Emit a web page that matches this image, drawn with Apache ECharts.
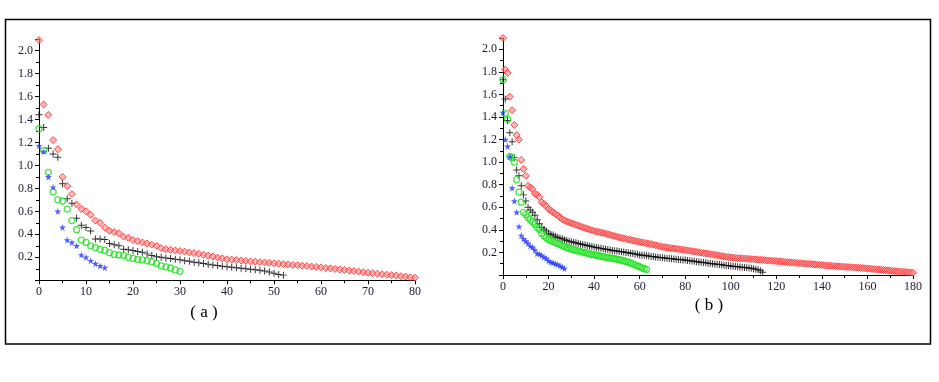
<!DOCTYPE html>
<html>
<head>
<meta charset="utf-8">
<script src="https://cdn.jsdelivr.net/npm/echarts@6/dist/echarts.min.js"></script>
<style>
  html, body { margin: 0; padding: 0; background: #fff; }
  #main { width: 939px; height: 382px; }
</style>
</head>
<body>
<div id="main"></div>
<script>
// panel (a): y values at x = 0, 1, 2, ...
var redA = [2.09, 1.53, 1.44, 1.22, 1.14, 0.90, 0.82, 0.75, 0.66, 0.62, 0.60, 0.57, 0.52, 0.50, 0.46, 0.43, 0.42, 0.41, 0.38, 0.37,
  0.35, 0.34, 0.33, 0.32, 0.31, 0.30, 0.28, 0.27, 0.265, 0.26, 0.255, 0.25, 0.243, 0.237, 0.23, 0.222, 0.215, 0.207, 0.198, 0.19,
  0.183, 0.18, 0.176, 0.172, 0.169, 0.165, 0.162, 0.158, 0.155, 0.152, 0.148, 0.145, 0.141, 0.138, 0.134, 0.131, 0.127, 0.124, 0.12, 0.117,
  0.113, 0.108, 0.104, 0.099, 0.094, 0.09, 0.085, 0.08, 0.076, 0.071, 0.066, 0.062, 0.058, 0.053, 0.049, 0.045, 0.041, 0.036, 0.032, 0.027,
  0.023];
var blackA = [1.44, 1.33, 1.15, 1.10, 1.07, 0.84, 0.71, 0.67, 0.54, 0.48, 0.46, 0.43, 0.36, 0.36, 0.355, 0.32, 0.31, 0.30, 0.27, 0.265,
  0.26, 0.25, 0.245, 0.23, 0.215, 0.205, 0.20, 0.195, 0.19, 0.183, 0.178, 0.17, 0.165, 0.158, 0.152, 0.146, 0.14, 0.134, 0.128, 0.122,
  0.117, 0.113, 0.109, 0.105, 0.101, 0.097, 0.092, 0.087, 0.08, 0.072, 0.062, 0.05, 0.045];
var greenA = [1.32, 1.13, 0.94, 0.77, 0.70, 0.69, 0.62, 0.52, 0.44, 0.35, 0.33, 0.30, 0.285, 0.27, 0.26, 0.24, 0.225, 0.22, 0.215, 0.20,
  0.19, 0.182, 0.177, 0.17, 0.16, 0.148, 0.125, 0.116, 0.107, 0.09, 0.078];
var blueA = [1.17, 1.12, 0.90, 0.81, 0.60, 0.46, 0.35, 0.33, 0.30, 0.22, 0.20, 0.17, 0.145, 0.125, 0.11];

// panel (b)
var redB = [2.10, 1.82, 1.79, 1.58, 1.46, 1.33, 1.24, 1.20, 1.02, 0.94, 0.88, 0.79, 0.775, 0.76, 0.72, 0.71, 0.69, 0.645, 0.63, 0.61,
  0.585, 0.57, 0.555, 0.54, 0.528, 0.51, 0.495, 0.485, 0.475, 0.467, 0.46, 0.452, 0.445, 0.438, 0.43, 0.424, 0.417, 0.41, 0.403, 0.396,
  0.389, 0.385, 0.381, 0.376, 0.372, 0.368, 0.362, 0.356, 0.35, 0.345, 0.339, 0.334, 0.329, 0.325, 0.32, 0.315, 0.311, 0.306, 0.302, 0.297,
  0.293, 0.289, 0.285, 0.281, 0.277, 0.274, 0.269, 0.264, 0.259, 0.255, 0.25, 0.247, 0.244, 0.241, 0.238, 0.235, 0.233, 0.23, 0.227, 0.224,
  0.221, 0.218, 0.214, 0.211, 0.208, 0.204, 0.201, 0.198, 0.194, 0.191, 0.188, 0.185, 0.181, 0.178, 0.175, 0.172, 0.168, 0.165, 0.162, 0.159,
  0.156, 0.154, 0.152, 0.151, 0.149, 0.147, 0.146, 0.144, 0.142, 0.141, 0.139, 0.138, 0.136, 0.134, 0.133, 0.131, 0.129, 0.128, 0.126, 0.125,
  0.123, 0.121, 0.119, 0.118, 0.116, 0.114, 0.112, 0.111, 0.109, 0.107, 0.105, 0.104, 0.102, 0.1, 0.098, 0.096, 0.095, 0.093, 0.091, 0.09,
  0.088, 0.086, 0.085, 0.083, 0.082, 0.08, 0.079, 0.077, 0.076, 0.074, 0.073, 0.071, 0.07, 0.068, 0.067, 0.065, 0.064, 0.062, 0.061, 0.059,
  0.058, 0.056, 0.054, 0.052, 0.05, 0.049, 0.047, 0.045, 0.043, 0.041, 0.039, 0.037, 0.035, 0.033, 0.031, 0.03, 0.028, 0.026, 0.024, 0.022,
  0.02];
var blackB = [1.73, 1.56, 1.37, 1.26, 1.18, 1.04, 0.93, 0.88, 0.79, 0.71, 0.655, 0.60, 0.575, 0.555, 0.53, 0.49, 0.455, 0.42, 0.405, 0.39,
  0.37, 0.362, 0.354, 0.343, 0.333, 0.327, 0.321, 0.313, 0.306, 0.3, 0.294, 0.29, 0.285, 0.28, 0.275, 0.271, 0.266, 0.261, 0.256, 0.252,
  0.247, 0.244, 0.24, 0.236, 0.232, 0.228, 0.225, 0.221, 0.218, 0.215, 0.212, 0.209, 0.206, 0.203, 0.2, 0.197, 0.193, 0.19, 0.186, 0.183,
  0.178, 0.176, 0.174, 0.171, 0.168, 0.165, 0.163, 0.16, 0.158, 0.155, 0.152, 0.15, 0.148, 0.146, 0.144, 0.142, 0.14, 0.138, 0.136, 0.134,
  0.132, 0.129, 0.127, 0.124, 0.121, 0.118, 0.116, 0.113, 0.11, 0.108, 0.105, 0.102, 0.1, 0.097, 0.095, 0.092, 0.09, 0.087, 0.084, 0.082,
  0.079, 0.077, 0.075, 0.073, 0.071, 0.069, 0.067, 0.065, 0.062, 0.059, 0.056, 0.052, 0.046, 0.038, 0.025];
var greenB = [1.73, 1.43, 1.38, 1.05, 1.04, 1.0, 0.845, 0.735, 0.645, 0.555, 0.535, 0.51, 0.49, 0.47, 0.45, 0.42, 0.405, 0.37, 0.345, 0.33,
  0.315, 0.305, 0.297, 0.288, 0.28, 0.271, 0.262, 0.252, 0.242, 0.235, 0.229, 0.224, 0.219, 0.213, 0.208, 0.203, 0.198, 0.193, 0.188, 0.183,
  0.179, 0.175, 0.171, 0.166, 0.162, 0.158, 0.155, 0.151, 0.148, 0.144, 0.141, 0.136, 0.131, 0.125, 0.12, 0.114, 0.107, 0.099, 0.09, 0.081,
  0.073, 0.064, 0.056, 0.049];
var blueB = [1.44, 1.20, 1.14, 1.05, 0.77, 0.655, 0.555, 0.43, 0.35, 0.32, 0.30, 0.28, 0.255, 0.245, 0.22, 0.19, 0.185, 0.173, 0.158, 0.147,
  0.126, 0.114, 0.108, 0.099, 0.093, 0.082, 0.07, 0.058];

var panelLabels = ['( a )', '( b )'];

var PLUS = 'path://M-0.14,-1L0.14,-1L0.14,-0.14L1,-0.14L1,0.14L0.14,0.14L0.14,1L-0.14,1L-0.14,0.14L-1,0.14L-1,-0.14L-0.14,-0.14Z';
var STAR = 'path://M0,-1L0.2245,-0.309L0.951,-0.309L0.363,0.118L0.588,0.809L0,0.382L-0.588,0.809L-0.363,0.118L-0.951,-0.309L-0.2245,-0.309Z';
var FONT = 'Liberation Serif';

function pts(arr) {
  return arr.map(function (v, i) { return [i, v]; });
}

function xAxisOf(idx, max, step) {
  return {
    type: 'value', gridIndex: idx, min: 0, max: max, interval: step,
    axisLine: { onZero: false, lineStyle: { color: '#000', width: 1 } },
    axisTick: { show: true, inside: false, length: 4, lineStyle: { color: '#000' } },
    minorTick: { show: true, splitNumber: 2, length: 3, lineStyle: { color: '#000' } },
    splitLine: { show: false },
    axisLabel: { margin: 6, fontFamily: FONT, fontSize: 12, color: '#1a1a33' }
  };
}

function yAxisOf(idx) {
  return {
    type: 'value', gridIndex: idx, min: 0, max: 2.1, interval: 0.2,
    axisLine: { onZero: false, lineStyle: { color: '#000', width: 1 } },
    axisTick: { show: true, inside: false, length: 4, lineStyle: { color: '#000' } },
    minorTick: { show: true, splitNumber: 2, length: 3, lineStyle: { color: '#000' } },
    splitLine: { show: false },
    axisLabel: {
      margin: 6, fontFamily: FONT, fontSize: 12, color: '#1a1a33', showMaxLabel: false,
      formatter: function (v) {
        var t = Math.round(v * 10);
        if (t === 0 || t % 2 !== 0) return '';
        return (t / 10).toFixed(1);
      }
    }
  };
}

function redSeries(idx, arr) {
  return { type: 'scatter', xAxisIndex: idx, yAxisIndex: idx, data: pts(arr), symbol: 'diamond', symbolSize: 7,
    itemStyle: { color: 'rgba(255,140,140,0.8)', borderColor: '#ff2a2a', borderWidth: 1 }, z: 2 };
}
function blackSeries(idx, arr) {
  return { type: 'scatter', xAxisIndex: idx, yAxisIndex: idx, data: pts(arr), symbol: PLUS, symbolSize: 7,
    itemStyle: { color: '#000' }, z: 3 };
}
function greenSeries(idx, arr) {
  return { type: 'scatter', xAxisIndex: idx, yAxisIndex: idx, data: pts(arr), symbol: 'circle', symbolSize: 6,
    itemStyle: { color: 'rgba(0,0,0,0)', borderColor: '#1ee01e', borderWidth: 1.3 }, z: 4 };
}
function blueSeries(idx, arr) {
  return { type: 'scatter', xAxisIndex: idx, yAxisIndex: idx, data: pts(arr), symbol: STAR, symbolSize: 7,
    itemStyle: { color: '#2436ff' }, z: 5 };
}

var chart = echarts.init(document.getElementById('main'));
chart.setOption({
  backgroundColor: '#fff',
  animation: false,
  grid: [
    { left: 39, top: 39, width: 376, height: 241.3 },
    { left: 503, top: 38, width: 410, height: 237 }
  ],
  xAxis: [xAxisOf(0, 80, 10), xAxisOf(1, 180, 20)],
  yAxis: [yAxisOf(0), yAxisOf(1)],
  graphic: [
    { type: 'rect', shape: { x: 5.5, y: 19.5, width: 925, height: 324.5 },
      style: { fill: 'none', stroke: '#000', lineWidth: 1.5 }, silent: true },
    { type: 'text', x: 204, y: 313, style: { text: panelLabels[0], font: '17px "Liberation Serif"',
      fill: '#000', textAlign: 'center', textVerticalAlign: 'middle' } },
    { type: 'text', x: 709, y: 306, style: { text: panelLabels[1], font: '17px "Liberation Serif"',
      fill: '#000', textAlign: 'center', textVerticalAlign: 'middle' } }
  ],
  series: [
    redSeries(0, redA), blackSeries(0, blackA), greenSeries(0, greenA), blueSeries(0, blueA),
    redSeries(1, redB), blackSeries(1, blackB), greenSeries(1, greenB), blueSeries(1, blueB)
  ]
});
</script>
</body>
</html>
